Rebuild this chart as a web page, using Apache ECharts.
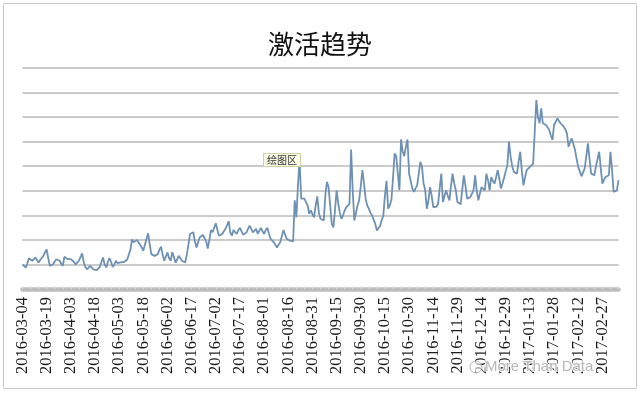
<!DOCTYPE html>
<html>
<head>
<meta charset="utf-8">
<script src="https://cdn.jsdelivr.net/npm/echarts@6/dist/echarts.min.js"></script>
<style>
html,body{margin:0;padding:0;background:#fff;}
#c{width:640px;height:393px;}
</style>
</head>
<body>
<div id="c"></div>
<script>
// Title and annotations
var titleText = '激活趋势';
var startDate = '2016-03-04';
var labelEvery = 15;

// Daily activation values (relative units, gridline every 100)
var values = [
100, 95, 87, 105, 125, 120, 115, 122, 128, 118,
108, 118, 126, 135, 150, 161, 125, 94, 98, 101,
112, 121, 118, 115, 104, 94, 131, 128, 122, 122,
122, 118, 110, 100, 94, 115, 130, 145, 110, 90,
80, 88, 94, 86, 80, 78, 77, 82, 90, 110,
128, 100, 88, 110, 126, 110, 90, 100, 115, 105,
98, 108, 115, 110, 104, 120, 127, 160, 202, 190,
195, 200, 190, 183, 170, 156, 180, 205, 227, 180,
142, 138, 135, 140, 142, 160, 172, 140, 115, 121,
149, 125, 115, 150, 130, 108, 120, 135, 125, 115,
110, 108, 140, 180, 224, 228, 231, 195, 169, 190,
210, 215, 220, 224, 195, 165, 200, 240, 231, 250,
268, 240, 217, 220, 224, 235, 245, 260, 276, 230,
217, 240, 232, 224, 240, 249, 235, 221, 213, 230,
238, 258, 245, 231, 238, 245, 225, 217, 249, 235,
224, 240, 249, 225, 205, 197, 190, 183, 169, 180,
190, 215, 240, 237, 204, 197, 197, 195, 194, 361,
292, 420, 531, 368, 374, 368, 361, 340, 306, 320,
305, 292, 340, 377, 310, 286, 282, 279, 380, 436,
415, 340, 265, 251, 320, 402, 350, 310, 286, 300,
320, 333, 340, 347, 568, 400, 279, 310, 340, 361,
420, 484, 430, 368, 340, 327, 310, 300, 292, 265,
238, 248, 258, 280, 299, 380, 440, 327, 340, 361,
450, 552, 541, 470, 402, 609, 560, 541, 580, 609,
470, 440, 410, 395, 410, 422, 470, 518, 497, 430,
402, 327, 360, 415, 380, 333, 327, 335, 347, 410,
470, 354, 380, 402, 380, 361, 420, 470, 430, 402,
354, 350, 345, 340, 463, 420, 368, 370, 374, 380,
402, 463, 400, 361, 390, 415, 408, 402, 470, 443,
402, 456, 440, 429, 455, 484, 450, 409, 430, 454,
480, 504, 600, 540, 500, 477, 472, 470, 520, 559,
480, 422, 455, 484, 490, 497, 505, 510, 518, 770,
700, 675, 736, 675, 672, 668, 660, 648, 625, 607,
668, 680, 695, 685, 675, 668, 661, 650, 634, 579,
600, 613, 590, 566, 530, 497, 478, 459, 475, 490,
540, 593, 530, 470, 466, 463, 500, 530, 559, 490,
429, 445, 456, 460, 463, 559, 484, 395, 400, 402,
443
];

// Category dates: consecutive days from startDate
var dates = [];
(function(){
  var p = startDate.split('-');
  var t = Date.UTC(+p[0], +p[1]-1, +p[2]);
  for (var i = 0; i < values.length; i++) {
    var d = new Date(t + i*86400000);
    var m = d.getUTCMonth()+1, dd = d.getUTCDate();
    dates.push(d.getUTCFullYear() + '-' + (m<10?'0':'') + m + '-' + (dd<10?'0':'') + dd);
  }
})();

var chart = echarts.init(document.getElementById('c'), null, {renderer:'canvas'});
chart.setOption({
  animation: false,
  backgroundColor: '#ffffff',
  title: {
    text: titleText,
    left: 'center',
    top: 26,
    textStyle: {fontFamily: 'Noto Sans CJK SC', fontSize: 26, fontWeight: 'normal', color: '#111'}
  },
  grid: {left: 22.5, right: 21.5, top: 68, bottom: 104, containLabel: false},
  xAxis: {
    type: 'category',
    boundaryGap: false,
    data: dates,
    axisLine: {show: true, lineStyle: {color: '#bdbdbd', width: 4.5}},
    axisTick: {show: true, inside: true, length: 3, interval: 4, lineStyle: {color: '#e2e2e2', width: 1}},
    axisLabel: {
      interval: labelEvery - 1,
      rotate: 90,
      margin: 8,
      fontFamily: 'Liberation Serif',
      fontSize: 16.5,
      color: '#1a1a1a'
    },
    splitLine: {show: false}
  },
  yAxis: {
    type: 'value',
    min: 0,
    max: 900,
    interval: 100,
    axisLine: {show: false},
    axisTick: {show: false},
    axisLabel: {show: false},
    splitLine: {show: true, lineStyle: {color: '#b9b9b9', width: 1.5}}
  },
  series: [{
    type: 'line',
    data: values,
    symbol: 'none',
    lineStyle: {color: '#6e91b3', width: 1.8},
    z: 3
  }],
  graphic: [
    {
      type: 'rect',
      shape: {x: 3.5, y: 3.5, width: 633, height: 385},
      style: {fill: 'none', stroke: '#c8c8c8', lineWidth: 1},
      z: 0
    },
    {
      type: 'text',
      left: 263,
      top: 153,
      style: {
        text: '绘图区',
        fontFamily: 'Noto Sans CJK SC',
        fontSize: 10,
        fill: '#333',
        backgroundColor: '#fbfbe6',
        borderColor: '#cfcfa8',
        borderWidth: 1,
        padding: [1, 3, 1, 3]
      },
      z: 10
    },
    {
      type: 'circle',
      shape: {cx: 476, cy: 367, r: 6},
      style: {fill: 'rgba(255,255,255,0.6)', stroke: 'rgba(150,150,150,0.7)', lineWidth: 1},
      z: 10
    },
    {
      type: 'text',
      left: 484,
      top: 358,
      style: {
        text: 'More Than Data',
        fontFamily: 'Liberation Sans',
        fontSize: 15,
        fill: 'rgba(170,170,170,0.85)',
        stroke: 'rgba(255,255,255,0.9)',
        lineWidth: 2
      },
      z: 10
    }
  ]
});
</script>
</body>
</html>
